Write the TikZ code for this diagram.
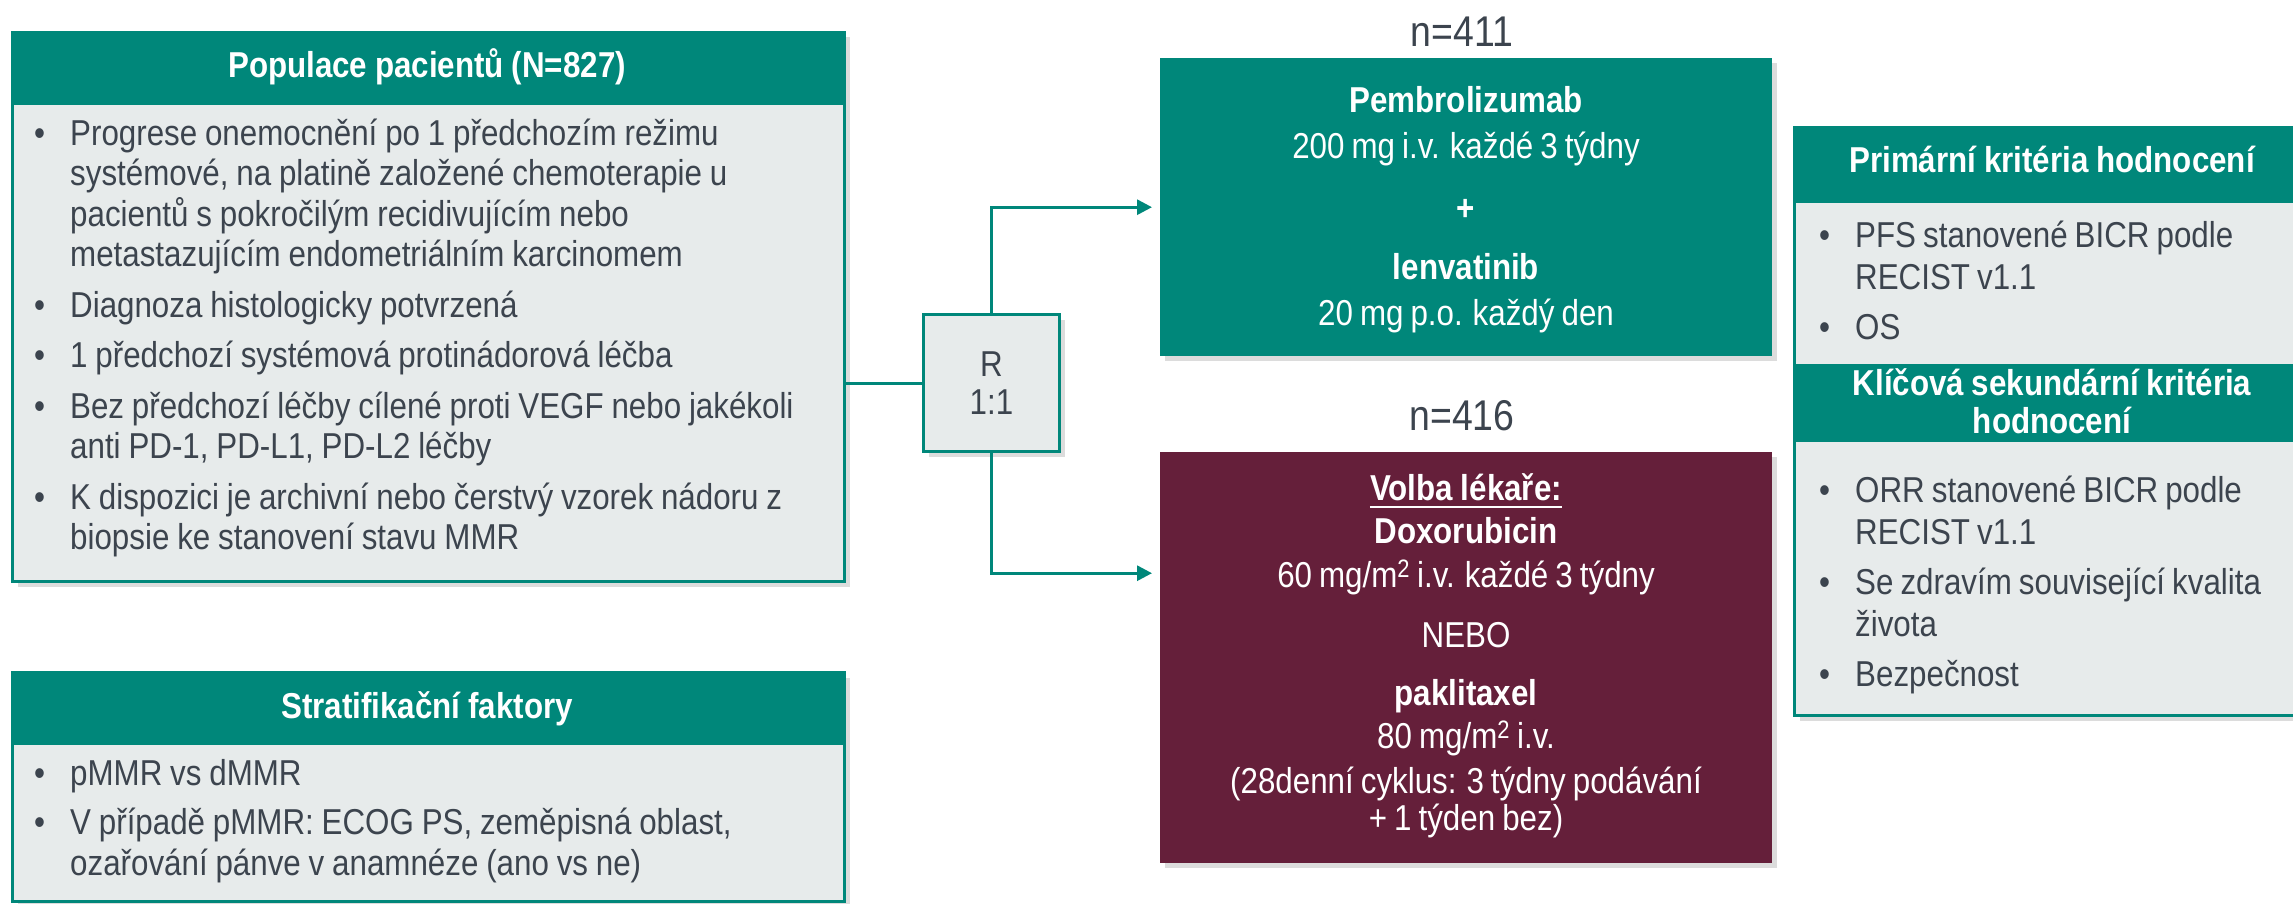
\documentclass[tikz,border=0pt]{standalone}
\usepackage{fontspec}
\setmainfont{Liberation Sans}
\newfontfamily\nf[FakeStretch=0.87,WordSpace=0.66]{Liberation Sans}
\newfontfamily\nfl[FakeStretch=0.87,WordSpace=0.9]{Liberation Sans}
\usetikzlibrary{shadows,arrows.meta,calc}
\definecolor{tealc}{RGB}{0,135,122}
\definecolor{greyc}{RGB}{231,235,235}
\definecolor{maroonc}{RGB}{101,31,58}
\definecolor{txtc}{RGB}{60,68,78}
\newcommand{\bodyf}{\nf\fontsize{36}{40.5}\selectfont}
\newcommand{\listf}{\nfl\fontsize{36}{40.5}\selectfont}
\newcommand{\listfr}{\nfl\fontsize{36}{42}\selectfont}
\newcommand{\boldf}{\nf\bfseries\fontsize{36}{38}\selectfont}
\newcommand{\bigf}{\nf\fontsize{43}{48}\selectfont}
\newcommand{\nl}{\unskip\hfil\break}
\newcommand{\bitem}[1]{\hangindent=36pt\hangafter=1\noindent\strut\makebox[36pt][l]{•}#1\par}
\newcommand{\listsetup}{\rightskip=0pt plus 1fil\relax\spaceskip=0pt\relax}
\tikzset{
  shad/.style={drop shadow={opacity=0.28, shadow xshift=5pt, shadow yshift=-5pt}},
  panel/.style={draw=tealc, line width=3pt, fill=greyc, shad, inner sep=0pt, anchor=north west},
  headband/.style={fill=tealc, inner sep=0pt, anchor=north west},
  tbox/.style={inner sep=0pt, anchor=north west, shad},
  conn/.style={draw=tealc, line width=3pt},
  arr/.style={-{Triangle[length=15pt,width=15pt]}},
  htext/.style={anchor=base, inner sep=0pt, font=\boldf, text=white},
  wtext/.style={anchor=base, inner sep=0pt, font=\bodyf, text=white},
  wbold/.style={anchor=base, inner sep=0pt, font=\boldf, text=white},
  list/.style={anchor=north west, inner sep=0pt, text=txtc},
}
\begin{document}
\begin{tikzpicture}[x=1pt, y=-1pt]
\useasboundingbox (0,0) rectangle (2293,904);

% ---------- Population box ----------
\node[panel, minimum width=832pt, minimum height=549pt] (pop) at (11,31) {};
\node[headband, minimum width=832pt, minimum height=74pt] (pophead) at (11,31) {};
\node[htext] (poptitle) at (427,78) {Populace pacientů (N=827)};
\node[list, font=\listf, text width=800pt] (poplist) at (34,116.65) {\listsetup\parskip=10pt\relax
\bitem{Progrese onemocnění po 1 předchozím režimu\nl systémové, na platině založené chemoterapie u\nl pacientů s pokročilým recidivujícím nebo\nl metastazujícím endometriálním karcinomem}
\bitem{Diagnoza histologicky potvrzená}
\bitem{1 předchozí systémová protinádorová léčba}
\bitem{Bez předchozí léčby cílené proti VEGF nebo jakékoli\nl anti PD-1, PD-L1, PD-L2 léčby}
\bitem{K dispozici je archivní nebo čerstvý vzorek nádoru z\nl biopsie ke stanovení stavu MMR}};

% ---------- Stratification box ----------
\node[panel, minimum width=832pt, minimum height=229pt] (strat) at (11,671) {};
\node[headband, minimum width=832pt, minimum height=74pt] (strathead) at (11,671) {};
\node[htext] (strattitle) at (427,718) {Stratifikační faktory};
\node[list, font=\listf, text width=800pt] (stratlist) at (34,756.65) {\listsetup\parskip=9pt\relax
\bitem{pMMR vs dMMR}
\bitem{V případě pMMR: ECOG PS, zeměpisná oblast,\nl ozařování pánve v anamnéze (ano vs ne)}};

% ---------- Randomisation ----------
\node[panel, minimum width=136pt, minimum height=137pt, align=center, text=txtc,
      font=\nf\fontsize{36}{38}\selectfont] (rbox) at (922,313) {R\\1:1};

% ---------- Arms ----------
\node[tbox, fill=tealc, minimum width=612pt, minimum height=298pt] (pembro) at (1160,58) {};
\node[tbox, fill=maroonc, minimum width=612pt, minimum height=411pt] (volba) at (1160,452) {};

\node[anchor=base, inner sep=0pt, font=\bigf, text=txtc] (n411) at (1462,47) {n=411};
\node[anchor=base, inner sep=0pt, font=\bigf, text=txtc] (n416) at (1462,430) {n=416};

\node[wbold] (p1) at (1466,113) {Pembrolizumab};
\node[wtext] (p2) at (1466,159) {200 mg i.v. každé 3 týdny};
\node[wbold] (p3) at (1466,221) {+};
\node[wbold] (p4) at (1466,279) {lenvatinib};
\node[wtext] (p5) at (1466,325) {20 mg p.o. každý den};

\node[wbold] (v1) at (1466,500) {Volba lékaře:};
\draw[white, line width=2.5pt] ([yshift=-7pt]v1.base west) -- ([yshift=-7pt]v1.base east);
\node[wbold] (v2) at (1466,543) {Doxorubicin};
\node[wtext] (v3) at (1466,587) {60 mg/m\textsuperscript{2} i.v. každé 3 týdny};
\node[wtext] (v4) at (1466,647) {NEBO};
\node[wbold] (v5) at (1466,705) {paklitaxel};
\node[wtext] (v6) at (1466,748) {80 mg/m\textsuperscript{2} i.v.};
\node[wtext] (v7) at (1466,793) {(28denní cyklus: 3 týdny podávání};
\node[wtext] (v8) at (1466,830) {+ 1 týden bez)};

% ---------- Endpoints ----------
\node[panel, minimum width=520pt, minimum height=588pt] (endp) at (1793,126) {};
\node[headband, minimum width=520pt, minimum height=77pt] (endh1) at (1793,126) {};
\node[htext] (endt1) at (2052,173) {Primární kritéria hodnocení};
\node[list, font=\listfr, text width=470pt] (endl1) at (1819,217.6) {\listsetup\parskip=8pt\relax
\bitem{PFS stanovené BICR podle\nl RECIST v1.1}
\bitem{OS}};
\node[headband, minimum width=520pt, minimum height=78pt] (endh2) at (1793,364) {};
\node[htext] (endt2a) at (2052,395) {Klíčová sekundární kritéria};
\node[htext] (endt2b) at (2052,433) {hodnocení};
\node[list, font=\listfr, text width=470pt] (endl2) at (1819,472.6) {\listsetup\parskip=8pt\relax
\bitem{ORR stanovené BICR podle\nl RECIST v1.1}
\bitem{Se zdravím související kvalita\nl života}
\bitem{Bezpečnost}};

% ---------- Connectors ----------
\draw[conn] (pop.east |- rbox.west) -- (rbox.west);
\draw[conn, arr] (rbox.north) |- ([xshift=-8pt]pembro.west);
\draw[conn, arr] (rbox.south) |- ([xshift=-8pt,yshift=84.5pt]volba.west);
\end{tikzpicture}
\end{document}
